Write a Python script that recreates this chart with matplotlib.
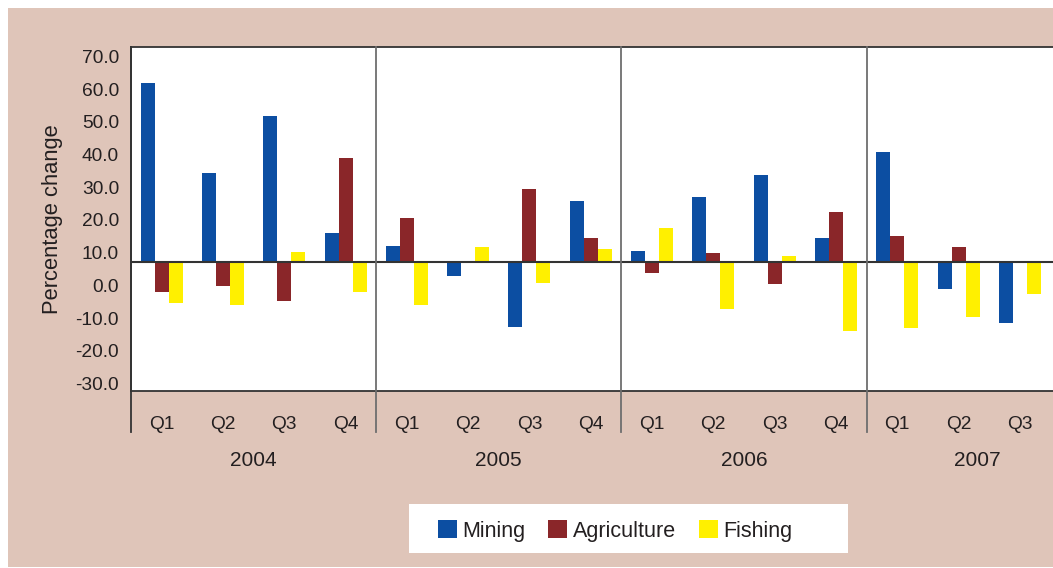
import numpy as np
import matplotlib
matplotlib.use("Agg")
import matplotlib.pyplot as plt
from matplotlib.patches import Rectangle

plt.rcParams['font.family'] = ['Liberation Sans', 'DejaVu Sans']

# quarters shown on the category axis
years = ['2004', '2005', '2006', '2007']
quarters = ['Q1', 'Q2', 'Q3', 'Q4', 'Q1', 'Q2', 'Q3', 'Q4',
            'Q1', 'Q2', 'Q3', 'Q4', 'Q1', 'Q2', 'Q3']

# percentage change
mining = [54.9, 27.3, 44.7, 9.0, 5.0, -4.2, -19.7, 18.7,
          3.5, 20.0, 26.7, 7.4, 33.7, -8.2, -18.5]
agriculture = [-9.2, -7.2, -11.8, 31.9, 13.5, 0.0, 22.4, 7.4,
               -3.3, 2.8, -6.6, 15.4, 8.0, 4.7, 0.0]
fishing = [-12.4, -13.1, 3.1, -9.1, -13.1, 4.7, -6.3, 4.1,
           10.5, -14.3, 1.9, -21.0, -20.0, -16.9, -9.6]

ytick_values = np.arange(70, -40, -10)

# the source chart prints its axis labels a little below where they belong
label_shift = 7.1

blue = '#0C4EA2'
red = '#8A2629'
yellow = '#FFF000'
tan = '#DFC5B9'
txt = '#231f20'

W, H = 1053, 568
fig = plt.figure(figsize=(W / 100, H / 100), dpi=100)
fig.patch.set_facecolor('white')
fig.patches.append(Rectangle((8 / W, 1 / H), (W - 8) / W, (567 - 8) / H,
                             transform=fig.transFigure, facecolor=tan,
                             edgecolor='none', zorder=-10))

ax = fig.add_axes([131 / W, (H - 390.7) / H, (W - 131) / W, (390.7 - 47.3) / H])
ax.set_facecolor('white')
ax.set_zorder(1)

x = np.arange(len(quarters))
bw = 0.228
ax.bar(x - bw, mining, bw, color=blue, label='Mining', zorder=3)
ax.bar(x, agriculture, bw, color=red, label='Agriculture', zorder=3)
ax.bar(x + bw, fishing, bw, color=yellow, label='Fishing', zorder=3)

slot = 61.3  # px per quarter
ax.set_xlim(-0.5, -0.5 + (W - 131) / slot)
ax.set_ylim(-39.3, 65.7)

ax.axhline(0, color='#333333', lw=1.5, zorder=4)

# year separators running down into the category area
for sep in [3.5, 7.5, 11.5]:
    ax.axvline(sep, ymin=-0.12, ymax=1, color='#6e6e6e', lw=1.3,
               clip_on=False, zorder=5)
ax.axvline(-0.5, ymin=-0.12, ymax=1, color='#333333', lw=1.3,
           clip_on=False, zorder=5)

ax.spines['right'].set_visible(False)
for side in ['top', 'bottom', 'left']:
    ax.spines[side].set_color('#333333')
    ax.spines[side].set_linewidth(1.3)

ax.set_yticks(ytick_values - label_shift)
ax.set_yticklabels([f'{v:.1f}' for v in ytick_values], fontsize=13.8, color=txt)
ax.tick_params(axis='y', length=0, pad=8.6)

ax.set_xticks(x)
ax.set_xticklabels(quarters, fontsize=13.8, color=txt)
ax.tick_params(axis='x', length=0, pad=18)

year_pos = [1.5, 5.5, 9.5, 13.3]
for yp, yr in zip(year_pos, years):
    ax.text(yp, -0.203, yr, transform=ax.get_xaxis_transform(),
            ha='center', va='center', fontsize=15, color=txt)

ax.set_ylabel('Percentage change', fontsize=15.8, color=txt)
ax.yaxis.set_label_coords(-0.074, 0.5)

# legend on its own white strip
lx0, lx1, ly0, ly1 = 409, 848, 504, 553
fig.patches.append(Rectangle((lx0 / W, (H - ly1) / H), (lx1 - lx0) / W,
                             (ly1 - ly0) / H, transform=fig.transFigure,
                             facecolor='white', edgecolor='none', zorder=-5))
leg = fig.legend(loc='center', bbox_to_anchor=(615 / W, 1 - 531 / H),
                 ncol=3, frameon=False, fontsize=15.5, handlelength=0.9,
                 handleheight=0.9, handletextpad=0.25, columnspacing=1.05)
for t in leg.get_texts():
    t.set_color(txt)

fig.savefig('out.png', dpi=100, facecolor=fig.get_facecolor())
